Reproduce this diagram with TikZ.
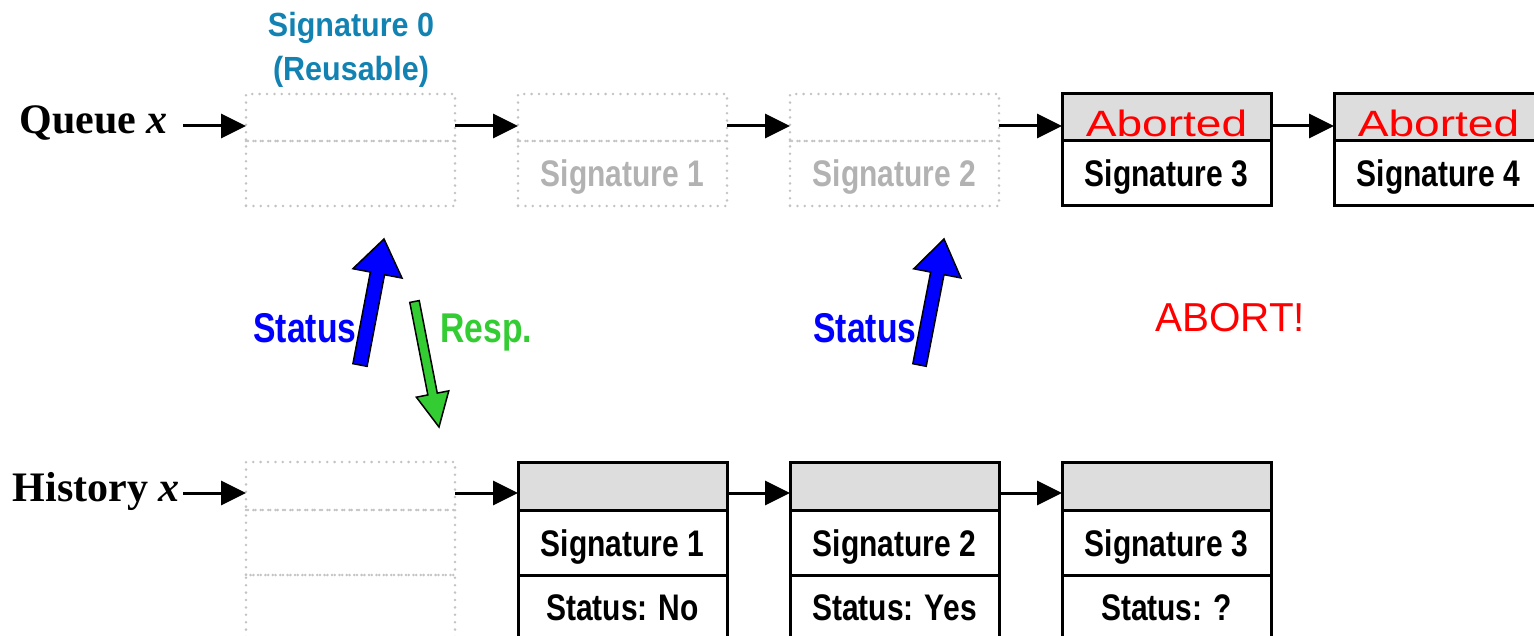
\documentclass[tikz,border=0pt]{standalone}
\usepackage{fontspec}
\setmainfont{Liberation Serif}
\newfontfamily\narrowsans[FakeStretch=0.81]{Liberation Sans}
\newfontfamily\midsans[FakeStretch=0.91]{Liberation Sans}
\newfontfamily\widesans[FakeStretch=1.26]{Liberation Sans}
\newfontfamily\plainsans{Liberation Sans}
\usetikzlibrary{arrows.meta,calc}
\definecolor{cellgrey}{RGB}{221,221,221}
\definecolor{dotgrey}{RGB}{195,195,195}
\definecolor{ghosttext}{RGB}{178,178,178}
\definecolor{sigteal}{RGB}{18,130,178}
\definecolor{respgreen}{RGB}{51,204,51}
\tikzset{
  cell/.style={draw=black, line width=1.5pt, inner sep=0pt, outer sep=0pt, minimum width=104.5pt},
  ghostcell/.style={draw=dotgrey, line width=1.4pt, dash pattern=on 0pt off 3.7pt, line cap=round, inner sep=0pt, outer sep=0pt, minimum width=104.5pt},
  qhead/.style={minimum height=23.5pt},
  qbody/.style={minimum height=32.5pt},
  hhead/.style={minimum height=24pt},
  hbody/.style={minimum height=32.5pt},
  hstat/.style={minimum height=37.5pt},
  greyfill/.style={fill=cellgrey},
  sigtext/.style={font={\narrowsans\bfseries\fontsize{18.5pt}{22pt}\selectfont}, anchor=base, inner sep=0pt},
  ghosttxt/.style={sigtext, text=ghosttext},
  abortedtxt/.style={font={\widesans\fontsize{18.3pt}{21pt}\selectfont}, text=red, anchor=base, inner sep=0pt},
  reusetxt/.style={font={\midsans\bfseries\fontsize{16.75pt}{20pt}\selectfont}, text=sigteal, anchor=base, inner sep=0pt},
  flowtxt/.style={font={\narrowsans\bfseries\fontsize{20.8pt}{24pt}\selectfont}, anchor=base west, inner sep=0pt},
  rowlabel/.style={font={\bfseries\fontsize{21pt}{25pt}\selectfont}, anchor=base east, inner sep=0pt},
  conn/.style={draw=black, line width=1.5pt, -{Triangle[length=12.5pt,width=12pt]}},
  blockedge/.style={draw=black, line width=0.75pt, line join=miter}
}
% #1 name, #2 colour, #3 tail centre, #4 tip, #5 half shaft, #6 half head, #7 head length
\newcommand\blockarr[7]{%
  \coordinate (#1-tail) at #3;
  \coordinate (#1-tip) at #4;
  \coordinate (#1-neck) at ($(#1-tip)!#7!(#1-tail)$);
  \path[blockedge, fill=#2]
    ($(#1-tail)!#5!90:(#1-tip)$) -- ($(#1-neck)!#5!90:(#1-tip)$) --
    ($(#1-neck)!#6!90:(#1-tip)$) -- (#1-tip) --
    ($(#1-neck)!#6!-90:(#1-tip)$) -- ($(#1-neck)!#5!-90:(#1-tip)$) --
    ($(#1-tail)!#5!-90:(#1-tip)$) -- cycle;
}
\begin{document}
\begin{tikzpicture}[x=0.5pt, y=-0.5pt]
\useasboundingbox (0,0) rectangle (1534,636);
\clip (0,0) rectangle (1534,636);

% ---------- Queue row ----------
\node[ghostcell, qhead] (q0h) at (350.5,117.5) {};
\node[ghostcell, qbody] (q0b) at (350.5,173.5) {};
\node[ghostcell, qhead] (q1h) at (622.5,117.5) {};
\node[ghostcell, qbody] (q1b) at (622.5,173.5) {};
\node[ghostcell, qhead] (q2h) at (894.5,117.5) {};
\node[ghostcell, qbody] (q2b) at (894.5,173.5) {};
\node[cell, qhead, greyfill] (q3h) at (1166.5,117.5) {};
\node[cell, qbody] (q3b) at (1166.5,173.5) {};
\node[cell, qhead, greyfill] (q4h) at (1438.5,117.5) {};
\node[cell, qbody] (q4b) at (1438.5,173.5) {};

\node[ghosttxt] (q1s) at (622.5,187) {Signature 1};
\node[ghosttxt] (q2s) at (894.5,187) {Signature 2};
\node[abortedtxt] (q3a) at (1166.5,137) {Aborted};
\node[sigtext] (q3s) at (1166.5,187) {Signature 3};
\node[abortedtxt] (q4a) at (1438.5,137) {Aborted};
\node[sigtext] (q4s) at (1438.5,187) {Signature 4};

\node[reusetxt] (r0a) at (351,37) {Signature 0};
\node[reusetxt] (r0b) at (351,81) {(Reusable)};

\node[rowlabel] (qlab) at (168,134) {Queue \textit{x}};
\draw[conn] ($(qlab.base east)+(15,-8)$) -- ($(q0h.west)+(0,8.5)$);
\draw[conn] ($(q0h.east)+(0,8.5)$) -- ($(q1h.west)+(0,8.5)$);
\draw[conn] ($(q1h.east)+(0,8.5)$) -- ($(q2h.west)+(0,8.5)$);
\draw[conn] ($(q2h.east)+(0,8.5)$) -- ($(q3h.west)+(0,8.5)$);
\draw[conn] ($(q3h.east)+(0,8.5)$) -- ($(q4h.west)+(0,8.5)$);

% ---------- History row ----------
\node[ghostcell, hhead] (h0h) at (350.5,486) {};
\node[ghostcell, hbody] (h0b) at (350.5,542.5) {};
\node[ghostcell, hstat] (h0s) at (350.5,612.5) {};
\node[cell, hhead, greyfill] (h1h) at (622.5,486) {};
\node[cell, hbody] (h1b) at (622.5,542.5) {};
\node[cell, hstat] (h1s) at (622.5,612.5) {};
\node[cell, hhead, greyfill] (h2h) at (894.5,486) {};
\node[cell, hbody] (h2b) at (894.5,542.5) {};
\node[cell, hstat] (h2s) at (894.5,612.5) {};
\node[cell, hhead, greyfill] (h3h) at (1166.5,486) {};
\node[cell, hbody] (h3b) at (1166.5,542.5) {};
\node[cell, hstat] (h3s) at (1166.5,612.5) {};

\node[sigtext] (h1sig) at (622.5,556) {Signature 1};
\node[sigtext] (h1st) at (622.5,620) {Status: No};
\node[sigtext] (h2sig) at (894.5,556) {Signature 2};
\node[sigtext] (h2st) at (894.5,620) {Status: Yes};
\node[sigtext] (h3sig) at (1166.5,556) {Signature 3};
\node[sigtext] (h3st) at (1166.5,620) {Status: ?};

\node[rowlabel] (hlab) at (180,501) {History \textit{x}};
\draw[conn] ($(hlab.base east)+(3,-8)$) -- ($(h0h.west)+(0,7)$);
\draw[conn] ($(h0h.east)+(0,7)$) -- ($(h1h.west)+(0,7)$);
\draw[conn] ($(h1h.east)+(0,7)$) -- ($(h2h.west)+(0,7)$);
\draw[conn] ($(h2h.east)+(0,7)$) -- ($(h3h.west)+(0,7)$);

% ---------- messages ----------
\node[flowtxt, text=blue] (st1) at (253,342) {Status};
\node[flowtxt, text=respgreen] (resp) at (440,342) {Resp.};
\node[flowtxt, text=blue] (st2) at (813,342) {Status};
\node[font={\plainsans\fontsize{20.2pt}{23pt}\selectfont}, text=red, anchor=base west, inner sep=0pt] (abort) at (1155,331) {ABORT!};

\blockarr{ba1}{blue}{(360,365)}{(384,239)}{3.6pt}{12.5pt}{17.5pt}
\blockarr{ga}{respgreen}{(414.5,301.5)}{(439,427)}{2.4pt}{8.25pt}{16.8pt}
\blockarr{ba2}{blue}{(919.5,365)}{(944,239)}{3.4pt}{12pt}{17.5pt}
\end{tikzpicture}
\end{document}
